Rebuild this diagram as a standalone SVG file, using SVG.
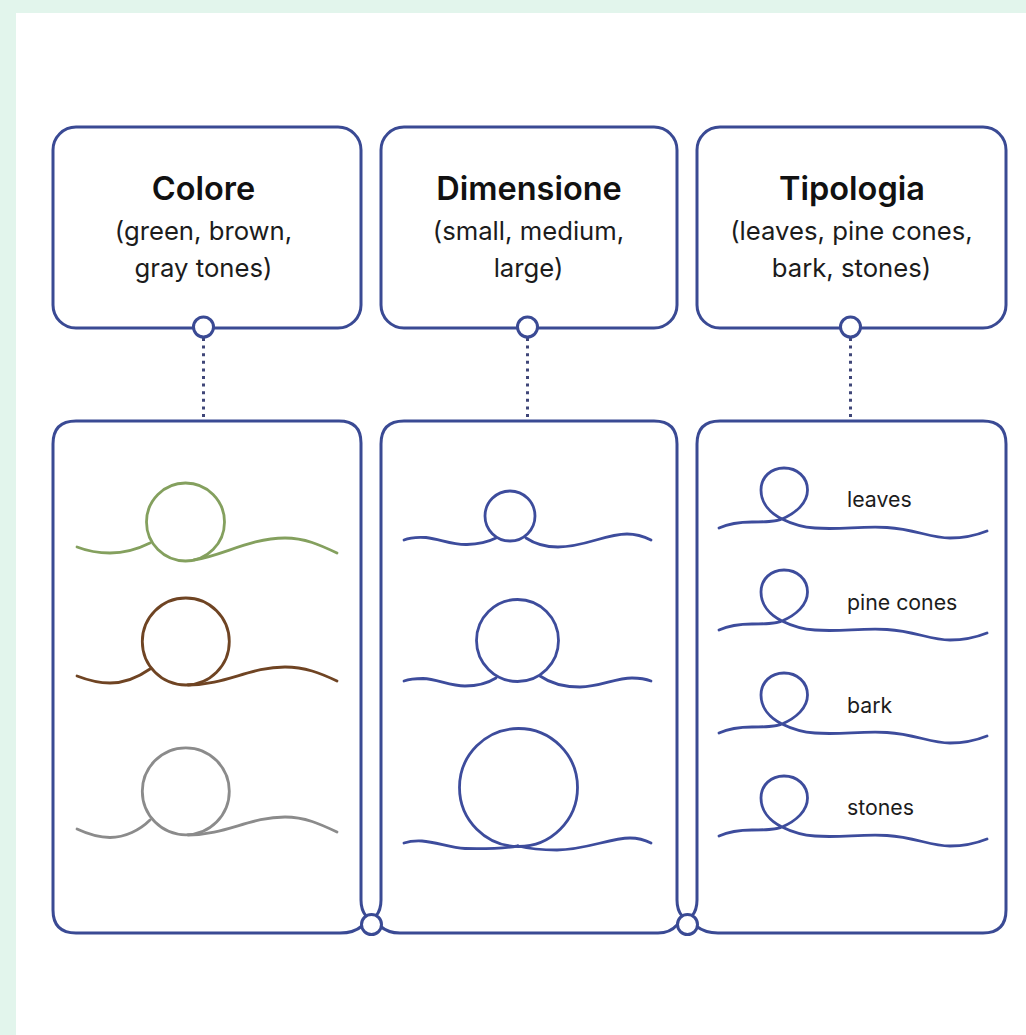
<svg xmlns="http://www.w3.org/2000/svg" width="1026" height="1035" viewBox="0 0 1026 1035">
<style>
.box{fill:#fff;stroke:#3a4a94;stroke-width:3;stroke-linejoin:round}
.dot{fill:none;stroke:#3f4678;stroke-width:3;stroke-dasharray:3 4.6}
.port{fill:#fff;stroke:#3a4a94;stroke-width:3}
.w{fill:none;stroke-width:2.8;stroke-linecap:round}
.b{stroke:#3d4c9c}.g{stroke:#84a05e}.br{stroke:#6f4423}.gr{stroke:#8b8b8b}
text{font-family:"Inter","Liberation Sans",sans-serif;fill:#111;text-anchor:middle}
.t{font-size:32.500px;font-weight:600}
.s{font-size:25.700px;fill:#1c1c1c}
.l{font-size:21.300px;text-anchor:start;fill:#1c1c1c}
</style>
<defs>
<path id="loop" class="w b" d="M719,528 C728,524 740,522 752,522 C765,522 775,522 782,519 C796,513 807.500,503 807.500,490 C807.500,477 797,468 784,468 C771,468 761,477 761,490 C761,503 770,513 782,519 C790,523 800,527 815,528 C840,530 860,526 887,527.500 C915,529 930,538 950,538 C965,538 977,535 987,531"/>
</defs>
<rect width="1026" height="1035" fill="#e2f5ec"/>
<rect x="16" y="13" width="1010" height="1022" fill="#fff"/>
<g id="connectors">
<line class="dot" x1="203.500" y1="338" x2="203.500" y2="421"/>
<line class="dot" x1="527.500" y1="338" x2="527.500" y2="421"/>
<line class="dot" x1="850.500" y1="338" x2="850.500" y2="421"/>
</g>
<g id="node-colore">
<rect class="box" x="53" y="127" width="308" height="201" rx="23"/>
<text class="t" x="203.500" y="200">Colore</text>
<text class="s" x="203.500" y="240">(green, brown,</text>
<text class="s" x="203.500" y="277">gray tones)</text>
<circle class="port" cx="203.500" cy="327" r="10"/>
</g>
<g id="node-dimensione">
<rect class="box" x="381" y="127" width="296" height="201" rx="23"/>
<text class="t" x="529" y="200">Dimensione</text>
<text class="s" x="528.500" y="240">(small, medium,</text>
<text class="s" x="528.500" y="277">large)</text>
<circle class="port" cx="527.500" cy="327" r="10"/>
</g>
<g id="node-tipologia">
<rect class="box" x="697" y="127" width="309" height="201" rx="23"/>
<text class="t" x="852" y="200">Tipologia</text>
<text class="s" x="851.500" y="240">(leaves, pine cones,</text>
<text class="s" x="851.500" y="277">bark, stones)</text>
<circle class="port" cx="850.500" cy="327" r="10"/>
</g>
<g id="panel-colore">
<path class="box" d="M76,421 H339 Q361,421 361,443 V900 Q361,910 366,916 L362,926 Q354,933 340,933 H76 Q53,933 53,910 V444 Q53,421 76,421 Z"/>
<circle class="w g" cx="185.500" cy="522" r="39"/>
<path class="w g" d="M77,547 C90,552 100,553 110,553 C125,553 140,548 150,543"/>
<path class="w g" d="M194,560 C222,556 250,538 285,538 C305,538 320,545 337,553"/>
<circle class="w br" cx="185.800" cy="641.500" r="43.500"/>
<path class="w br" d="M77,676 C90,681 100,683 110,683 C125,683 140,676 150,669"/>
<path class="w br" d="M188,685 C225,685 250,667 285,667 C305,667 320,673 337,681"/>
<circle class="w gr" cx="185.800" cy="791.300" r="43.500"/>
<path class="w gr" d="M77,829 C90,835 100,837.500 110,837.500 C125,837.500 140,830 150,820"/>
<path class="w gr" d="M188,835 C225,835 250,817 285,817 C305,817 320,824 337,832"/>
</g>
<g id="panel-dimensione">
<path class="box" d="M404,421 H654 Q677,421 677,444 V900 Q677,910 682,916 L677,925 Q670,933 658,933 H400 Q388,933 380,926 L376,916 Q381,910 381,900 V444 Q381,421 404,421 Z"/>
<circle class="w b" cx="510" cy="516" r="25"/>
<path class="w b" d="M404,540 C411,537 418,537 426,537.500 C440,539 452,545 467,544.500 C478,544.200 488,542 496,538"/>
<path class="w b" d="M526,538 C535,544 545,547 558,547 C585,547 605,534 627,534 C637,534 645,537 651,540"/>
<circle class="w b" cx="517.500" cy="640.500" r="41"/>
<path class="w b" d="M404,681 C411,678.500 417,678.500 423,678.500 C437,679 450,686 465,686 C478,686 488,683 496,678"/>
<path class="w b" d="M540,676 C550,683 565,687 580,687 C600,687 615,678 632,678 C640,678 646,679 651,681"/>
<circle class="w b" cx="518.500" cy="787.500" r="59"/>
<path class="w b" d="M404,843 C410,841 416,840.700 422,841 C437,842 450,848 465,848.500 C485,849 505,848 518,846"/>
<path class="w b" d="M518,846 C530,849 545,850 557,850 C585,850 610,838 630,838 C638,838 645,840 651,843"/>
</g>
<g id="panel-tipologia">
<path class="box" d="M720,421 H983 Q1006,421 1006,444 V910 Q1006,933 983,933 H718 Q705,933 696,926 L692,916 Q697,910 697,900 V444 Q697,421 720,421 Z"/>
<use href="#loop"/>
<text class="l" x="847" y="507">leaves</text>
<use href="#loop" y="102"/>
<text class="l" x="847" y="610">pine cones</text>
<use href="#loop" y="205"/>
<text class="l" x="847" y="713">bark</text>
<use href="#loop" y="308"/>
<text class="l" x="847" y="815">stones</text>
</g>
<g id="junctions">
<circle class="port" cx="371.500" cy="924.500" r="10"/>
<circle class="port" cx="687.500" cy="924.500" r="10"/>
</g>
</svg>
